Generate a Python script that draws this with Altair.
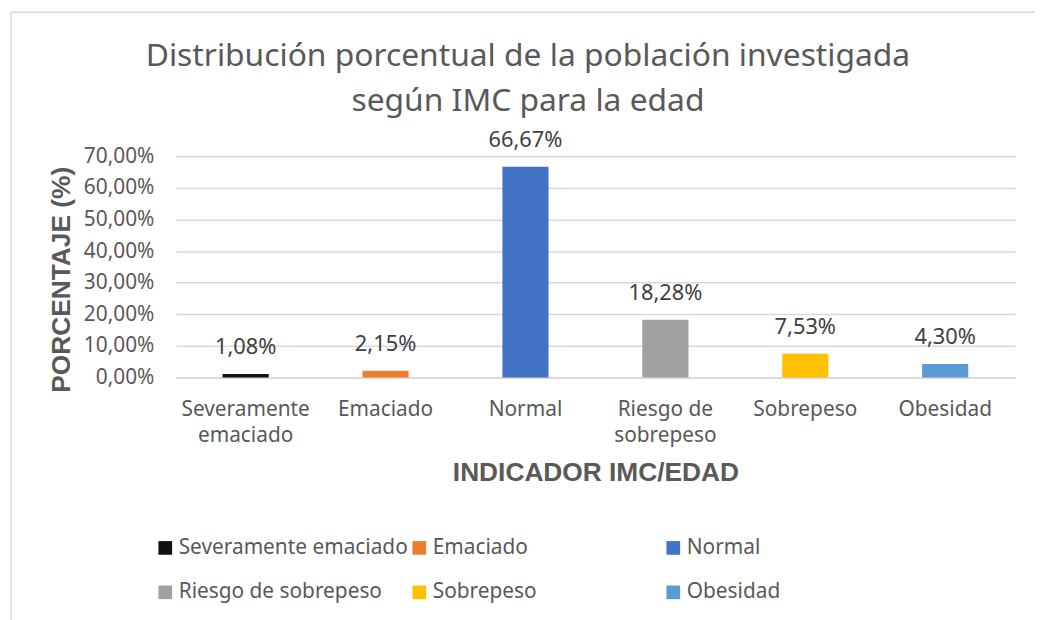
import altair as alt
import pandas as pd

categories = ["Severamente emaciado", "Emaciado", "Normal", "Riesgo de sobrepeso", "Sobrepeso", "Obesidad"]
values = [1.08, 2.15, 66.67, 18.28, 7.53, 4.30]
colors = ["#111111", "#ED7D31", "#4472C4", "#A0A0A0", "#FFC000", "#5B9BD5"]
y_ticks = [0, 10, 20, 30, 40, 50, 60, 70]

# legend is filled column-wise (2 rows), so order entries to read row-wise
legend_order = [0, 3, 1, 4, 2, 5]
legend_domain = [categories[i] for i in legend_order]
legend_range = [colors[i] for i in legend_order]

df = pd.DataFrame({"cat": categories, "val": values})
df["lbl"] = [f"{v:.2f}".replace(".", ",") + "%" for v in values]

FONT = "Noto Sans"
BOLD = "Liberation Sans"
TXT = "#595959"

base = alt.Chart(df).encode(
    x=alt.X(
        "cat:N", sort=categories, title="INDICADOR IMC/EDAD",
        scale=alt.Scale(paddingInner=0.67, paddingOuter=0.335),
        axis=alt.Axis(
            labelExpr="datum.label == 'Severamente emaciado' ? ['Severamente','emaciado'] : datum.label == 'Riesgo de sobrepeso' ? ['Riesgo de','sobrepeso'] : datum.label",
            labelAngle=0, labelFontSize=21, labelColor=TXT, labelFont=FONT,
            labelLineHeight=27, labelPadding=21, labelBaseline="top",
            labelLimit=300,
            ticks=False, domainColor="#D9D9D9", domainWidth=1.5,
            titleFontSize=26.5, titleFontWeight="bold", titleColor=TXT, titleFont=BOLD,
            titleY=96, titleBaseline="middle",
        ),
    ),
    y=alt.Y(
        "val:Q", title="PORCENTAJE (%)",
        scale=alt.Scale(domain=[0, 70]),
        axis=alt.Axis(
            values=y_ticks, labelOverlap=False,
            labelExpr="replace(format(datum.value, '.2f'), '.', ',') + '%'",
            labelFontSize=21, labelColor=TXT, labelFont=FONT, labelPadding=22,
            ticks=False, domain=False, gridColor="#D9D9D9", gridWidth=1.5,
            titleFontSize=26.5, titleFontWeight="bold", titleColor=TXT, titleFont=BOLD,
            titleX=-115, titleY=124, titleBaseline="middle", titleAngle=270,
        ),
    ),
)

bars = base.mark_bar().encode(
    color=alt.Color(
        "cat:N",
        scale=alt.Scale(domain=legend_domain, range=legend_range),
        legend=alt.Legend(
            title=None, orient="none", legendX=-21, legendY=384,
            columns=3, gridAlign="all", columnPadding=1, rowPadding=23,
            symbolType="square", symbolSize=190, symbolStrokeWidth=0,
            labelFontSize=21, labelColor=TXT, labelFont=FONT, labelOffset=3,
            labelLimit=400,
        ),
    ),
)

text = base.mark_text(
    baseline="bottom", dy=-15, fontSize=22, color="#404040", font=FONT
).encode(text="lbl:N")

frame = alt.Chart(pd.DataFrame({"a": [0]})).mark_rect(
    fill=None, stroke="#D9D9D9", strokeWidth=1.5
).encode(
    x=alt.value(-166), x2=alt.value(900),
    y=alt.value(-145), y2=alt.value(500),
)

chart = alt.layer(frame, bars, text).properties(
    width=846, height=223,
    title=alt.TitleParams(
        text=["Distribución porcentual de la población investigada", "según IMC para la edad"],
        fontSize=32, font=FONT, color=TXT, fontWeight="normal",
        anchor="middle", dx=-68, dy=107, lineHeight=45, offset=0,
    ),
    autosize=alt.AutoSizeParams(type="none"),
    padding={"left": 169, "top": 147, "right": 20, "bottom": 242},
    background="white",
).configure_view(stroke=None)

chart.save("out.html", embed_options={"renderer": "svg", "actions": False})
